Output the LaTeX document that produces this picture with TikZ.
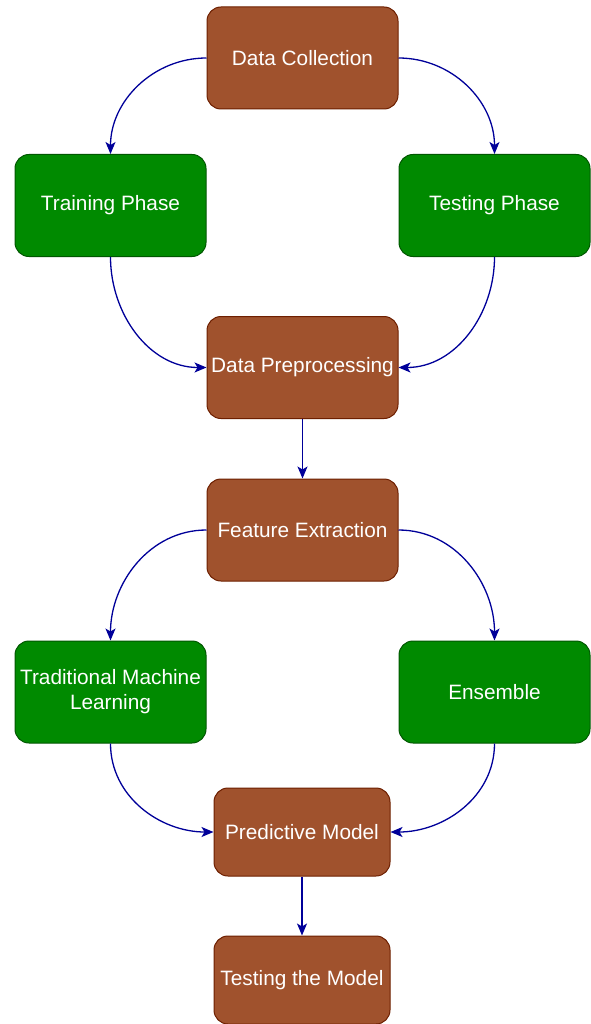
\documentclass[tikz,border=0pt]{standalone}
\usepackage{fontspec}
\setmainfont{Liberation Sans}
\usetikzlibrary{arrows.meta}
\definecolor{brownfill}{HTML}{A0522D}
\definecolor{brownline}{HTML}{6D1F00}
\definecolor{greenfill}{HTML}{008A00}
\definecolor{greenline}{HTML}{005700}
\definecolor{flow}{HTML}{000099}
\tikzset{
  box/.style={rounded corners=14pt, line width=1pt, text=white,
    font=\fontsize{20.8}{25}\selectfont, align=center, inner sep=0pt},
  brownbox/.style={box, fill=brownfill, draw=brownline,
    minimum width=191pt, minimum height=102pt},
  greenbox/.style={box, fill=greenfill, draw=greenline,
    minimum width=191pt, minimum height=102pt},
  smallbox/.style={box, fill=brownfill, draw=brownline,
    minimum width=176pt, minimum height=88pt},
  link/.style={draw=flow, line width=1.3pt,
    -{Stealth[length=12pt,width=10pt,inset=3pt]}},
}
\begin{document}
\begin{tikzpicture}[x=1pt,y=-1pt]
\useasboundingbox (0,0) rectangle (590,1024);
\node[brownbox] (collect) at (302.5,58) {Data Collection};
\node[greenbox] (train) at (110.5,205.5) {Training Phase};
\node[greenbox] (test) at (494.5,205.5) {Testing Phase};
\node[brownbox] (prep) at (302.5,367.5) {Data Preprocessing};
\node[brownbox] (feat) at (302.5,530) {Feature Extraction};
\node[greenbox] (tml) at (110.5,692) {Traditional Machine\\Learning};
\node[greenbox] (ens) at (494.5,692) {Ensemble};
\node[smallbox] (pred) at (302,832) {Predictive Model};
\node[smallbox] (final) at (302,980) {Testing the Model};

\draw[link] (collect.west) to[out=180,in=90] (train.north);
\draw[link] (collect.east) to[out=0,in=90] (test.north);
\draw[link] (train.south) to[out=-90,in=180] (prep.west);
\draw[link] (test.south) to[out=-90,in=0] (prep.east);
\draw[link] (prep.south) -- (feat.north);
\draw[link] (feat.west) to[out=180,in=90] (tml.north);
\draw[link] (feat.east) to[out=0,in=90] (ens.north);
\draw[link] (tml.south) to[out=-90,in=180] (pred.west);
\draw[link] (ens.south) to[out=-90,in=0] (pred.east);
\draw[link] (pred.south) -- (final.north);
\end{tikzpicture}
\end{document}
